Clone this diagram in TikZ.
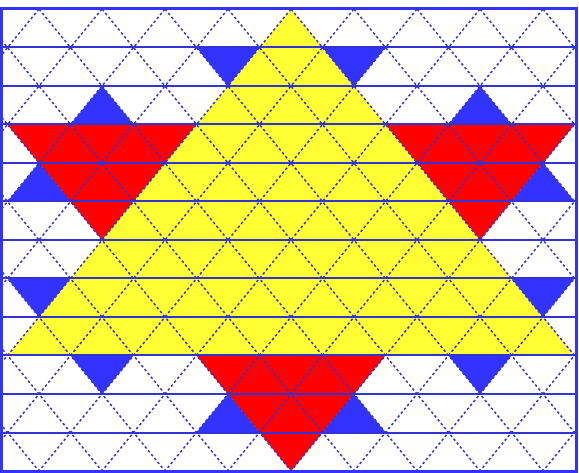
\documentclass[tikz,border=0pt]{standalone}
\usepackage{tikz}
\definecolor{gridblue}{RGB}{51,51,210}
\definecolor{starblue}{RGB}{51,51,255}
\definecolor{starred}{RGB}{255,0,0}
\definecolor{staryellow}{RGB}{255,255,51}
\tikzset{
  diagline/.style={gridblue,line width=1.5pt,dash pattern=on 2.5pt off 2.5pt},
  rowline/.style={gridblue,line width=2pt},
  frameline/.style={starblue,line width=3pt}
}

\begin{document}
\begin{tikzpicture}[x=31.5pt,y=-38.5pt]
        \useasboundingbox (0pt,0pt) rectangle (579pt,-473pt);
        \begin{scope}
          \clip (1.5pt,-8.5pt) rectangle (576pt,-471.5pt);
          \begin{scope}[shift={(291pt,-9pt)}]
            \fill[starred] (-9,3) -- (-3,3) -- (-6,6) -- cycle;
            \fill[starred] (3,3) -- (9,3) -- (6,6) -- cycle;
            \fill[starred] (-3,9) -- (3,9) -- (0,12) -- cycle;
            \fill[staryellow] (0,0) -- (9,9) -- (-9,9) -- cycle;
            \foreach \i/\k in {-2/1,2/1,-8/7,8/7,-6/9,6/9}
              \fill[starblue] (\i-1,\k) -- (\i+1,\k) -- (\i,\k+1) -- cycle;
            \foreach \i/\k in {-6/2,6/2,-8/4,8/4,-2/10,2/10}
              \fill[starblue] (\i,\k) -- (\i+1,\k+1) -- (\i-1,\k+1) -- cycle;
            \foreach \c in {-22,-20,...,10}
              \draw[diagline] (\c-1,-1) -- (\c+13,13);
            \foreach \c in {-10,-8,...,22}
              \draw[diagline] (\c+1,-1) -- (\c-13,13);
            \foreach \k in {1,...,11}
              \draw[rowline] (-9.4,\k) -- (9.2,\k);
          \end{scope}
        \end{scope}
        \draw[frameline] (1.5pt,-8.5pt) rectangle (576pt,-471.5pt);
      \end{tikzpicture}
\end{document}
